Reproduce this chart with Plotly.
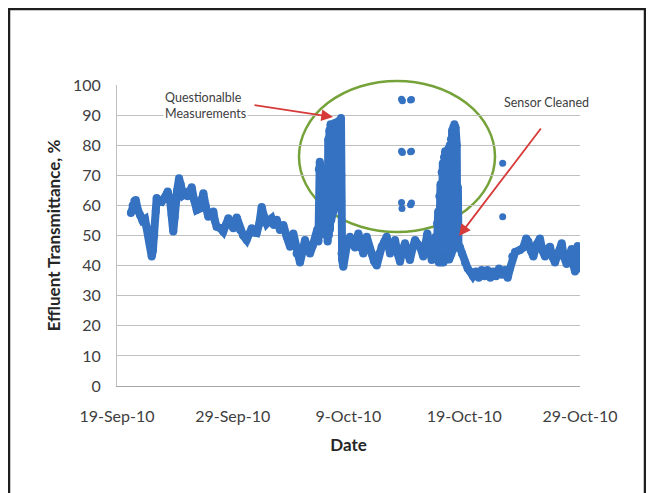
import plotly.graph_objects as go
from datetime import datetime, timedelta

# ---------------- data ----------------
START = datetime(2010, 9, 19)

# days after 19-Sep-2010 and effluent transmittance (%)
days = [
    1.20, 1.35, 1.50, 1.62, 1.80, 1.99, 2.20, 2.42, 2.55, 2.70, 2.85, 3.00, 3.10, 3.22,
    3.35, 3.43, 3.60, 3.86, 4.10, 4.38, 4.58, 4.72, 4.86, 4.98, 5.07, 5.20, 5.36, 5.50,
    5.73, 5.95, 6.11, 6.30, 6.45, 6.65, 6.89, 7.15, 7.30, 7.46, 7.65, 7.89, 8.10, 8.32,
    8.45, 8.61, 8.90, 9.18, 9.40, 9.62, 9.80, 10.05, 10.34, 10.63, 10.90, 11.20, 11.40,
    11.64, 11.85, 12.07, 12.30, 12.50, 12.65, 12.93, 13.15, 13.36, 13.55, 13.80, 14.08,
    14.37, 14.66, 14.95, 15.23, 15.52, 15.81, 16.05, 16.24, 16.45, 16.67, 16.90, 17.11,
    17.30,
    # first rise / questionable readings
    17.40, 17.44, 17.48, 17.52, 17.56, 17.60, 17.64, 17.68, 17.72, 17.76, 17.80, 17.85,
    17.90, 17.95, 18.00, 18.05, 18.10, 18.15, 18.20,
    18.25, 18.30, 18.35, 18.40, 18.45, 18.50, 18.55, 18.60, 18.65, 18.70, 18.75, 18.80,
    18.85, 18.90, 18.95, 19.00, 19.05, 19.10, 19.15, 19.20, 19.25, 19.30, 19.35, 19.40,
    # after the first spike
    19.45, 19.55, 19.70, 19.84, 20.13, 20.35, 20.56, 20.85, 21.05, 21.28, 21.57, 21.80,
    22.00, 22.20, 22.44, 22.65, 22.87, 23.10, 23.30, 23.59, 23.80, 24.02, 24.25, 24.45,
    24.65, 24.88, 25.10, 25.31, 25.55, 25.75, 26.00, 26.18, 26.46, 26.81, 27.00, 27.19,
    27.35, 27.50,
    # second spike
    27.60, 27.65, 27.70, 27.75, 27.80, 27.85, 27.90, 27.95, 28.00, 28.05, 28.10, 28.15,
    28.20, 28.25, 28.30, 28.35, 28.40, 28.45, 28.50, 28.55, 28.60, 28.65, 28.70, 28.75,
    28.80, 28.85, 28.90, 28.95, 29.00, 29.05, 29.10, 29.15, 29.20, 29.25, 29.30, 29.35,
    29.40, 29.45, 29.50,
    # after sensor cleaning
    29.63, 29.80, 30.07, 30.30, 30.50, 30.75, 31.00, 31.25, 31.50, 31.75, 32.00, 32.25,
    32.50, 32.75, 33.00, 33.25, 33.50, 33.75, 33.95, 34.15, 34.40, 34.82, 35.10, 35.35,
    35.53, 35.75, 35.97, 36.25, 36.54, 36.75, 36.98, 37.20, 37.41, 37.60, 37.84, 38.10,
    38.42, 38.60, 38.85, 39.05, 39.28, 39.45, 39.57, 39.70, 39.80, 39.85,
]
values = [
    57.5, 60.0, 61.5, 61.8, 58.5, 56.8, 55.0, 55.5, 53.0, 51.8, 47.0, 43.0, 45.0, 50.0,
    58.0, 62.5, 61.5, 61.2, 62.5, 64.6, 62.0, 57.0, 51.3, 56.0, 62.0, 65.0, 69.0, 67.0,
    63.4, 64.0, 63.0, 64.5, 66.0, 62.0, 58.5, 59.0, 62.0, 64.0, 60.0, 56.2, 57.0, 58.0,
    55.0, 52.9, 52.5, 51.3, 53.5, 55.7, 54.5, 52.4, 56.0, 51.8, 50.0, 48.5, 50.5,
    52.4, 51.0, 50.8, 54.0, 59.5, 57.0, 54.0, 55.0, 55.7, 53.5, 55.2, 51.8,
    53.5, 49.6, 46.3, 50.7, 44.0, 41.0, 45.0, 48.5, 46.0, 44.0, 46.5, 48.5,
    52.0,
    48.0, 72.0, 50.0, 74.5, 52.0, 71.0, 55.0, 68.0, 56.0, 64.0, 55.0, 63.0,
    53.0, 62.0, 52.0, 64.0, 50.0, 66.0, 48.0,
    82.0, 50.0, 85.0, 52.0, 87.0, 55.0, 86.0, 57.0, 87.0, 58.0, 86.0, 60.0,
    87.5, 62.0, 86.0, 63.0, 87.0, 64.0, 88.0, 62.0, 87.0, 63.0, 89.0, 44.0,
    42.0, 39.6, 44.0, 46.3, 49.6, 47.0, 46.0, 50.7, 46.0, 44.0, 49.6, 46.0,
    44.0, 41.5, 40.0, 44.0, 46.3, 48.0, 49.6, 44.0, 46.0, 48.5, 44.0, 41.3,
    45.0, 47.4, 44.0, 41.9, 46.0, 48.5, 47.0, 46.3, 43.0, 50.7, 46.0, 41.9,
    46.0, 49.5,
    42.0, 54.0, 42.0, 58.0, 41.0, 63.0, 42.0, 67.0, 41.0, 71.0, 42.0, 74.0,
    41.0, 76.0, 42.0, 78.0, 43.0, 76.0, 42.0, 78.0, 43.0, 79.0, 42.0, 80.0,
    43.0, 82.0, 44.0, 85.0, 45.0, 86.0, 46.0, 87.0, 47.0, 86.0, 48.0, 80.0,
    47.0, 66.0, 46.0,
    46.0, 44.0, 41.0, 39.0, 38.0, 36.5, 38.0, 36.0, 38.5, 36.5, 38.5, 36.0,
    38.0, 36.5, 39.0, 37.0, 38.5, 36.0, 39.0, 43.0, 44.5, 45.2, 46.0, 49.0,
    48.0, 45.0, 43.0, 47.0, 49.0, 45.0, 43.0, 45.5, 46.3, 43.0, 41.0, 44.0,
    47.4, 43.0, 40.5, 43.0, 45.5, 40.0, 38.0, 42.0, 46.5, 39.0,
]

# isolated readings
outlier_days = [24.58, 24.66, 25.36, 25.44, 24.58, 24.66, 25.36, 25.44,
                24.58, 24.62, 25.36, 25.44, 19.42, 19.42, 33.32, 33.32]
outlier_values = [95.3, 94.8, 95.0, 95.2, 78.0, 77.6, 77.8, 78.0,
                  61.0, 59.0, 60.2, 60.8, 70.0, 61.5, 74.0, 56.2]

x_tick_dates = ["2010-09-19", "2010-09-29", "2010-10-09", "2010-10-19", "2010-10-29"]
x_tick_labels = ["19-Sep-10", "29-Sep-10", "9-Oct-10", "19-Oct-10", "29-Oct-10"]
y_ticks = [0, 10, 20, 30, 40, 50, 60, 70, 80, 90, 100]

# ---------------- figure ----------------
dates = [START + timedelta(days=d) for d in days]
outlier_dates = [START + timedelta(days=d) for d in outlier_days]

OFF = 8                      # page offset of the figure div (body margin)
W, H = 654 - OFF, 493 - OFF
L, R, T, B = 117, 580, 85, 386   # plot area in page pixels


def px(x):
    return (x - L) / (R - L)


def py(y):
    return (B - y) / (B - T)


BLUE = "#3572c1"
FONT = "Lato"

fig = go.Figure()
fig.add_trace(go.Scatter(
    x=dates, y=values, mode="lines+markers",
    line=dict(color=BLUE, width=8),
    marker=dict(color=BLUE, size=8),
    hoverinfo="skip", showlegend=False,
))
fig.add_trace(go.Scatter(
    x=outlier_dates, y=outlier_values, mode="markers",
    marker=dict(color=BLUE, size=7),
    hoverinfo="skip", showlegend=False,
))

shapes = [
    # outer frame
    dict(type="rect", xref="paper", yref="paper",
         x0=px(OFF + 1), x1=px(645), y0=py(510), y1=py(OFF + 1),
         line=dict(color="#1e1e1e", width=2.5), layer="above"),
    # white text boxes
    dict(type="rect", xref="paper", yref="paper",
         x0=px(157), x1=px(215), y0=py(150), y1=py(78),
         fillcolor="white", line=dict(width=0), layer="between"),
    dict(type="rect", xref="paper", yref="paper",
         x0=px(495), x1=px(565), y0=py(133), y1=py(90),
         fillcolor="white", line=dict(width=0), layer="between"),
    # green ellipse
    dict(type="circle", xref="paper", yref="paper",
         x0=px(299), x1=px(495), y0=py(232), y1=py(81),
         line=dict(color="#76a23a", width=2.5), layer="between"),
]

RED = "#d63b3a"
annotations = [
    dict(text="Questionalble<br>Measurements", xref="paper", yref="paper",
         x=px(163), y=py(105), xanchor="left", yanchor="middle", align="left",
         showarrow=False, bgcolor="white",
         font=dict(family=FONT, size=12.5, color="#404040")),
    dict(text="Sensor Cleaned", xref="paper", yref="paper",
         x=px(502), y=py(103), xanchor="left", yanchor="middle", align="left",
         showarrow=False,
         font=dict(family=FONT, size=12.5, color="#404040")),
    dict(text="", xref="paper", yref="paper", x=px(333), y=py(117),
         ax=253 - 333, ay=105 - 117, showarrow=True,
         arrowhead=2, arrowsize=1.3, arrowwidth=1.8, arrowcolor=RED),
    dict(text="", xref="paper", yref="paper", x=px(459), y=py(236),
         ax=542 - 459, ay=127 - 236, showarrow=True,
         arrowhead=2, arrowsize=1.3, arrowwidth=1.8, arrowcolor=RED),
]

fig.update_layout(
    width=W, height=H,
    margin=dict(l=L - OFF, r=W - (R - OFF), t=T - OFF, b=H - (B - OFF)),
    paper_bgcolor="white", plot_bgcolor="white",
    font=dict(family=FONT, color="#404040"),
    shapes=shapes, annotations=annotations,
    xaxis=dict(
        type="date",
        range=[x_tick_dates[0], x_tick_dates[-1]],
        tickvals=x_tick_dates, ticktext=x_tick_labels,
        showgrid=False, zeroline=False,
        showline=True, linecolor="#a6a6a6", linewidth=1,
        ticks="", ticklabelstandoff=16,
        tickfont=dict(family=FONT, size=16, color="#404040"),
        title=dict(text="<b>Date</b>", standoff=14,
                   font=dict(family=FONT, size=17, color="#262626")),
    ),
    yaxis=dict(
        range=[0, 100], tickvals=y_ticks,
        showgrid=True, gridcolor="#c0c0c0", gridwidth=1,
        zeroline=False,
        showline=True, linecolor="#bfbfbf", linewidth=1,
        ticks="", ticklabelstandoff=12,
        tickfont=dict(family=FONT, size=16, color="#404040"),
        title=dict(text="<b>Effluent Transmittance, %</b>", standoff=8,
                   font=dict(family=FONT, size=17, color="#262626")),
    ),
)

fig.write_html("out.html")
